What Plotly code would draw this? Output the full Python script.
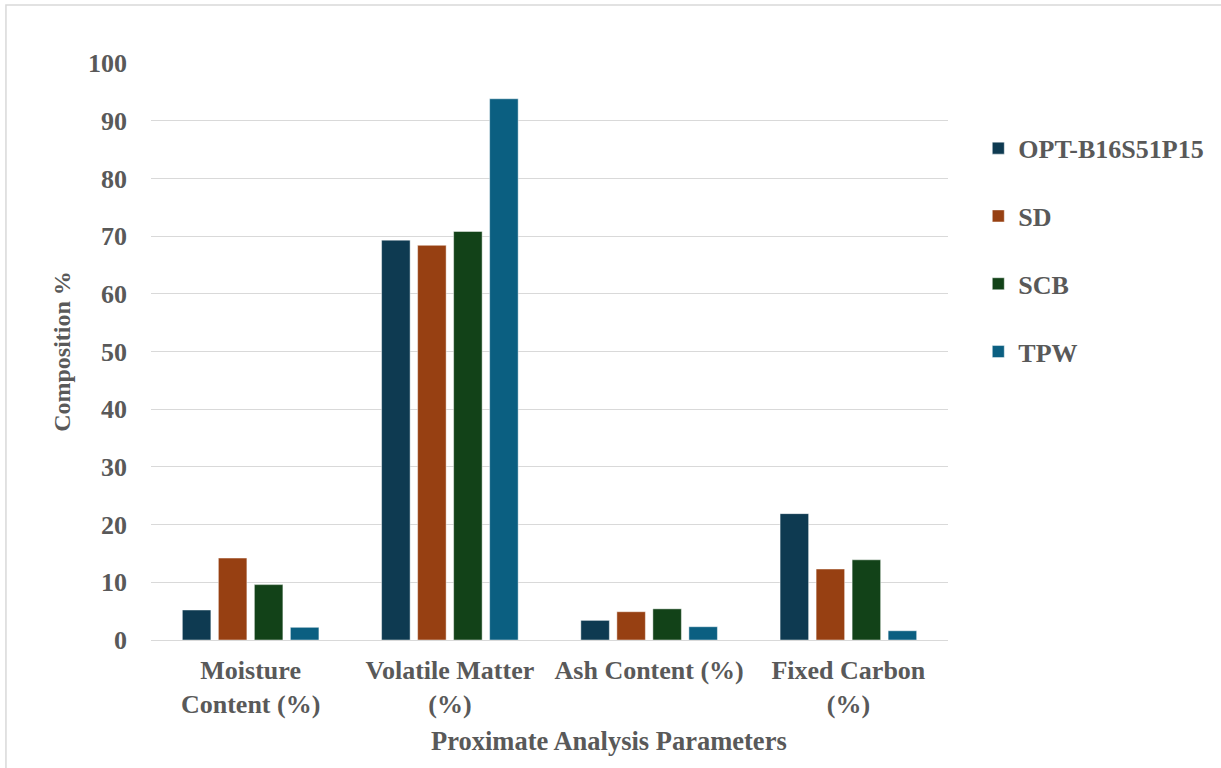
import plotly.graph_objects as go

# Proximate analysis of the blend and its feedstocks
categories = ["Moisture<br>Content (%)", "Volatile Matter<br>(%)", "Ash Content (%)", "Fixed Carbon<br>(%)"]
series_names = ["OPT-B16S51P15", "SD", "SCB", "TPW"]
opt_b16s51p15 = [5.2, 69.3, 3.4, 21.9]
sd = [14.2, 68.4, 4.9, 12.3]
scb = [9.6, 70.8, 5.4, 13.9]
tpw = [2.2, 93.8, 2.3, 1.6]
y_ticks = [0, 10, 20, 30, 40, 50, 60, 70, 80, 90, 100]

values = [opt_b16s51p15, sd, scb, tpw]
colors = ["#0E3A51", "#974012", "#124218", "#0B5F81"]

FONT = "Liberation Serif"
TEXT = "#595959"
GRID = "#D9D9D9"

fig = go.Figure()
for name, vals, col in zip(series_names, values, colors):
    fig.add_trace(go.Bar(
        x=categories, y=vals, name=name, legendgroup=name,
        marker=dict(color=col, line=dict(color="rgba(255,255,255,0.45)", width=1)),
    ))

fig.update_layout(
    width=1221, height=768,
    margin=dict(l=151, r=273, t=63, b=128),
    paper_bgcolor="white", plot_bgcolor="white",
    barmode="group", bargap=0.277, bargroupgap=0.208,
    font=dict(family=FONT, color=TEXT),
    legend=dict(
        x=1.038, y=0.893, xanchor="left", yanchor="top",
        font=dict(family=FONT, size=26, color=TEXT, weight="bold"),
        tracegroupgap=31, itemwidth=30, bgcolor="rgba(0,0,0,0)",
    ),
    xaxis=dict(
        showgrid=False, showline=False, ticks="", ticklabelstandoff=12,
        tickfont=dict(family=FONT, size=26, color=TEXT, weight="bold"),
    ),
    yaxis=dict(
        range=[0, 100], tickvals=y_ticks, showgrid=True, gridcolor=GRID, gridwidth=1.3,
        zeroline=True, zerolinecolor=GRID, zerolinewidth=1.3, showline=False,
        ticks="", ticklabelstandoff=23,
        tickfont=dict(family=FONT, size=26, color=TEXT, weight="bold"),
        title=dict(text="Composition %", standoff=10,
                   font=dict(family=FONT, size=24, color=TEXT, weight="bold")),
    ),
    annotations=[dict(
        text="Proximate Analysis Parameters", xref="paper", yref="paper",
        x=0.575, y=-0.175, xanchor="center", yanchor="middle", showarrow=False,
        font=dict(family=FONT, size=26.5, color=TEXT, weight="bold"),
    )],
    shapes=[dict(
        type="rect", xref="paper", yref="paper",
        x0=-0.182, x1=1.36, y0=-0.25, y1=1.1005,
        line=dict(color=GRID, width=1.5), fillcolor="rgba(0,0,0,0)", layer="below",
    )],
)

fig.write_html("out.html")
